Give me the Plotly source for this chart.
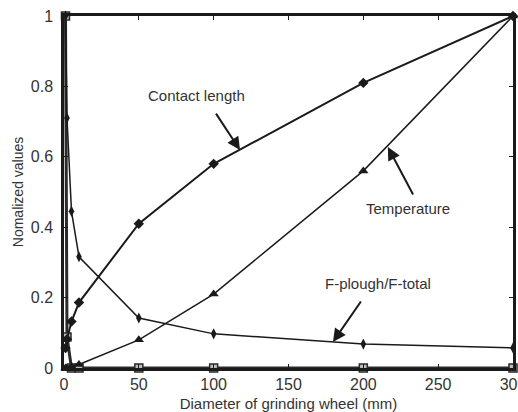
import plotly.graph_objects as go

diameter = [1, 2, 5, 10, 50, 100, 200, 300]
contact_length = [0.057, 0.082, 0.132, 0.186, 0.41, 0.58, 0.81, 1.0]
temperature = [0.0, 0.0, 0.004, 0.01, 0.08, 0.21, 0.56, 1.0]
f_plough = [1.0, 0.71, 0.445, 0.316, 0.142, 0.097, 0.068, 0.057]
square_series = [1.0, 0.088, 0.0, 0.0, 0.0, 0.0, 0.0, 0.0]

x_ticks = [0, 50, 100, 150, 200, 250, 300]
y_ticks = [0, 0.2, 0.4, 0.6, 0.8, 1]

fig = go.Figure()
fig.add_trace(go.Scatter(x=diameter, y=square_series, mode="lines+markers",
                         line=dict(color="#2a2a2a", width=3),
                         marker=dict(symbol="square", size=8, color="#bdbdbd",
                                     line=dict(color="#2a2a2a", width=1.5)),
                         cliponaxis=False, showlegend=False))
fig.add_trace(go.Scatter(x=diameter, y=temperature, mode="lines+markers",
                         line=dict(color="#1a1a1a", width=1.5),
                         marker=dict(symbol="triangle-up", size=9, color="#1a1a1a"),
                         cliponaxis=False, showlegend=False))
fig.add_trace(go.Scatter(x=diameter, y=f_plough, mode="lines+markers",
                         line=dict(color="#1a1a1a", width=1.5),
                         marker=dict(symbol="diamond-tall", size=8, color="#1a1a1a"),
                         cliponaxis=False, showlegend=False))
fig.add_trace(go.Scatter(x=diameter, y=contact_length, mode="lines+markers",
                         line=dict(color="#1a1a1a", width=2),
                         marker=dict(symbol="diamond", size=8, color="#1a1a1a"),
                         cliponaxis=False, showlegend=False))

font = dict(family="Arial, Liberation Sans, sans-serif", color="#333333")

annotations = [
    dict(x=88.8, y=0.773, text="Contact length", showarrow=False, font=dict(size=15, **font)),
    dict(x=229.8, y=0.4545, text="Temperature", showarrow=False, font=dict(size=15, **font)),
    dict(x=209.8, y=0.241, text="F-plough/F-total", showarrow=False, font=dict(size=15, **font)),
    dict(x=117.6, y=0.619, ax=-25, ay=-38, text="", showarrow=True,
         arrowhead=2, arrowsize=1.3, arrowwidth=2, arrowcolor="#1a1a1a"),
    dict(x=216.4, y=0.628, ax=26, ay=49, text="", showarrow=True,
         arrowhead=2, arrowsize=1.3, arrowwidth=2, arrowcolor="#1a1a1a"),
    dict(x=179.7, y=0.074, ax=29, ay=-42, text="", showarrow=True,
         arrowhead=2, arrowsize=1.3, arrowwidth=2, arrowcolor="#1a1a1a"),
    dict(xref="paper", yref="paper", x=-0.102, y=0.5, text="Nomalized values",
         textangle=-90, showarrow=False, xanchor="center", yanchor="middle",
         font=dict(size=14, **font)),
]

fig.update_layout(
    width=518, height=412,
    margin=dict(l=64, r=5, t=16, b=44),
    paper_bgcolor="white", plot_bgcolor="white",
    font=font,
    annotations=annotations,
    xaxis=dict(range=[0, 300], tickvals=x_ticks, ticks="inside", ticklen=4,
               tickcolor="#1a1a1a", showgrid=False, zeroline=False, automargin=False,
               showline=True, linecolor="#1a1a1a", linewidth=2.5, mirror="ticks",
               ticklabeloverflow="allow",
               tickfont=dict(size=16, **font),
               title=dict(text="Diameter of grinding wheel (mm)", font=dict(size=15, **font))),
    yaxis=dict(range=[0, 1], tickvals=y_ticks, ticktext=["0", "0.2", "0.4", "0.6", "0.8", "1"],
               ticks="inside", ticklen=4, automargin=False, ticklabelstandoff=5,
               tickcolor="#1a1a1a", showgrid=False, zeroline=False,
               showline=True, linecolor="#1a1a1a", linewidth=2.5, mirror="ticks",
               ticklabeloverflow="allow",
               tickfont=dict(size=16, **font)),
)

fig.write_html("out.html", config={"displayModeBar": False},
               post_script="document.body.style.margin='0';document.body.style.overflow='hidden';")
